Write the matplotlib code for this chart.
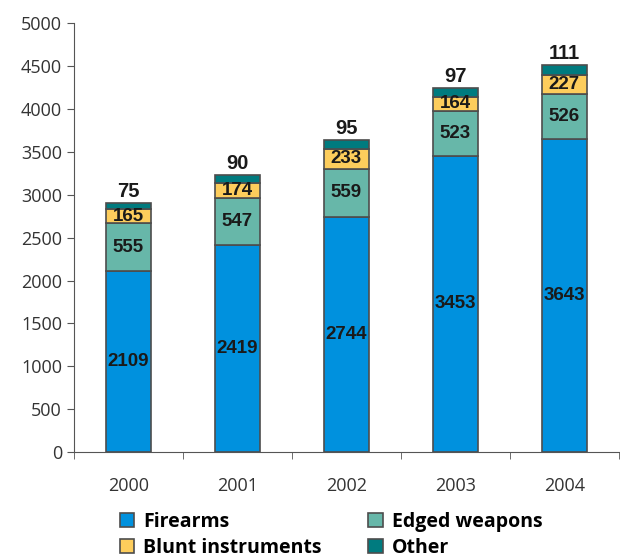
import matplotlib
matplotlib.use("Agg")
import matplotlib.pyplot as plt
import numpy as np

years = ["2000", "2001", "2002", "2003", "2004"]
firearms = [2109, 2419, 2744, 3453, 3643]
edged = [555, 547, 559, 523, 526]
blunt = [165, 174, 233, 164, 227]
other = [75, 90, 95, 97, 111]

series = [
    ("Firearms", firearms, "#0091de"),
    ("Edged weapons", edged, "#67b7a9"),
    ("Blunt instruments", blunt, "#fdcd5c"),
    ("Other", other, "#007b7f"),
]

fig = plt.figure(figsize=(6.2, 5.59), dpi=100)
ax = fig.add_axes([0.119, 0.191, 0.879, 0.768])

x = np.arange(len(years))
bottom = np.zeros(len(years))
handles = {}
for name, vals, col in series:
    vals = np.array(vals)
    h = ax.bar(x, vals, 0.41, bottom=bottom, color=col, edgecolor="#4d4d4d",
               linewidth=1.2, label=name)
    handles[name] = h
    for xi, b, v in zip(x, bottom, vals):
        if name == "Other":
            ax.text(xi, b + v + 25, str(v), ha="center", va="bottom",
                    fontsize=14.5, fontweight="bold", color="#1a1a1a",
                    family="Liberation Sans")
        else:
            ax.text(xi, b + v / 2, str(v), ha="center", va="center",
                    fontsize=13.5, fontweight="bold", color="#1a1a1a",
                    family="Liberation Sans")
    bottom += vals

ax.set_xlim(-0.5, len(years) - 0.5)
ax.set_ylim(0, 5000)
ax.set_yticks(np.arange(0, 5001, 500))
ax.set_xticks(x)
ax.set_xticklabels(years)
ax.set_xticks(np.arange(-0.5, len(years)), minor=True)
ax.tick_params(axis="x", which="major", length=0, pad=18)
ax.tick_params(axis="x", which="minor", length=5, color="#555555")
ax.tick_params(axis="y", length=5, color="#555555")
for lab in ax.get_xticklabels() + ax.get_yticklabels():
    lab.set_fontsize(13)
    lab.set_color("#333333")
    lab.set_family("Open Sans")
for s in ["top", "right"]:
    ax.spines[s].set_visible(False)
for s in ["left", "bottom"]:
    ax.spines[s].set_color("#555555")

# legend fills column by column, so this order gives the reference's rows
order = ["Firearms", "Blunt instruments", "Edged weapons", "Other"]
leg = fig.legend([handles[n] for n in order], order,
                 loc="lower left", bbox_to_anchor=(0.165, -0.029), ncol=2,
                 frameon=False, handlelength=0.75, handleheight=0.75,
                 handletextpad=0.45, columnspacing=2.4, labelspacing=0.3,
                 prop={"family": "Open Sans", "weight": "bold", "size": 14})

fig.savefig("out.png", dpi=100)
